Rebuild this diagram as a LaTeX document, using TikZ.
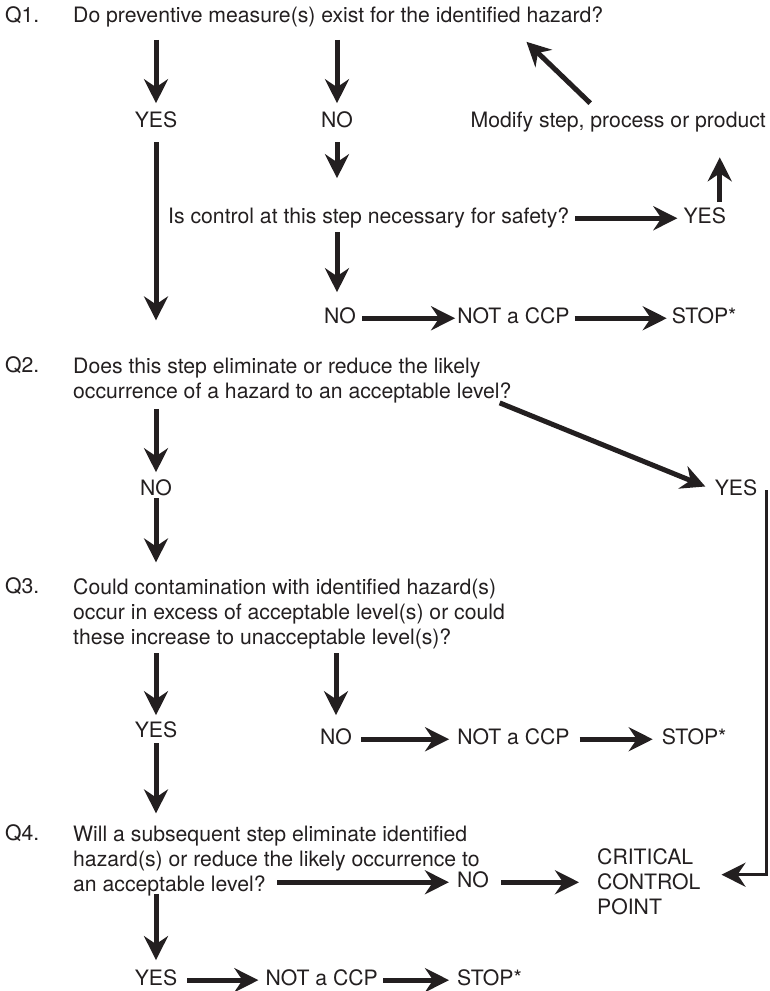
\documentclass[tikz,border=0pt]{standalone}
\usepackage{fontspec}
\setmainfont{TeX Gyre Heros}
\usetikzlibrary{arrows.meta, positioning, calc}
\definecolor{ink}{HTML}{231F20}
\tikzstyle{question} = [anchor=north west, align=left, inner sep=0pt]
\tikzstyle{answer} = [anchor=base, inner sep=0pt, text height=15.2pt, text depth=4.5pt]
\tikzstyle{qnum} = [anchor=base west, inner sep=0pt]
\tikzstyle{arrow} = [line width=5pt, -{Stealth[length=24pt, width=24pt, inset=8pt]}]
\tikzstyle{link} = [line width=3.5pt, -{Stealth[length=24pt, width=24pt, inset=8pt]}]

\begin{document}
\begin{tikzpicture}[x=1pt, y=-1pt, font=\fontsize{21.2}{25}\selectfont, color=ink]
 \useasboundingbox (0,0) rectangle (770,991);

 % Q1
 \node (q1num) [qnum] at (5,22.1) {Q1.};
 \node (q1) [answer, anchor=base west] at (73,22.1) {Do preventive measure(s) exist for the identified hazard?};
 \node (yes1) [answer] at (156,127.6) {YES};
 \node (no1) [answer] at (337,127.6) {NO};
 \node (modify) [answer, anchor=base east] at (766,127.6) {Modify step, process or product};
 \node (ctrl) [answer, anchor=base west] at (168,223.6) {Is control at this step necessary for safety?};
 \node (yes2) [answer, right=114pt of ctrl] {YES};
 \node (no2) [answer] at (340,323.6) {NO};
 \node (notccp1) [answer, right=101pt of no2] {NOT a CCP};
 \node (stop1) [answer, right=102pt of notccp1] {STOP*};

 % Q2
 \node (q2num) [qnum] at (5,372.6) {Q2.};
 \node (q2) [question] at (73,357.4) {Does this step eliminate or reduce the likely\\occurrence of a hazard to an acceptable level?};
 \node (no3) [answer] at (156,495.6) {NO};
 \node (yes3) [answer] at (736,495.6) {YES};

 % Q3
 \node (q3num) [qnum] at (5,593.6) {Q3.};
 \node (q3) [question] at (73,578.4) {Could contamination with identified hazard(s)\\occur in excess of acceptable level(s) or could\\these increase to unacceptable level(s)?};
 \node (yes4) [answer] at (156,737.6) {YES};
 \node (no4) [answer] at (336,744.6) {NO};
 \node (notccp2) [answer, right=105pt of no4] {NOT a CCP};
 \node (stop2) [answer, right=92pt of notccp2] {STOP*};

 % Q4
 \node (q4num) [qnum] at (5,840.6) {Q4.};
 \node (q4) [question] at (73,825.4) {Will a subsequent step eliminate identified\\hazard(s) or reduce the likely occurrence to\\an acceptable level?};
 \node (no5) [answer] at (473,887.6) {NO};
 \node (ccp) [question] at (597,848.4) {CRITICAL\\CONTROL\\POINT};
 \node (yes5) [answer] at (156,985.5) {YES};
 \node (notccp3) [answer, right=88pt of yes5] {NOT a CCP};
 \node (stop3) [answer, right=79pt of notccp3] {STOP*};

 % arrows of Q1
 \draw[arrow, shorten <=13pt, shorten >=9pt] (q1.south -| yes1) -- (yes1.north);
 \draw[arrow, shorten <=13pt, shorten >=9pt] (q1.south -| no1) -- (no1.north);
 \draw[arrow, shorten <=10pt, shorten >=37pt] (yes1.south) -- (yes1.south |- q2.north);
 \draw[arrow, shorten <=10pt, shorten >=30pt] (no1.south) -- (no1.south |- ctrl.north);
 \draw[arrow, shorten <=4pt, shorten >=16pt] (ctrl.south -| no1) -- (no1 |- no2.north);
 \draw[arrow, shorten <=6pt, shorten >=6pt] (ctrl.east) -- (yes2.west);
 \draw[arrow, shorten <=6pt, shorten >=25pt] ([xshift=15pt]yes2.north) -- ([xshift=15pt]yes2.north |- modify.south);
 \draw[arrow] ([xshift=-28pt,yshift=9pt]modify.north) -- ([xshift=-77pt,yshift=-15pt]q1.south east);
 \draw[arrow, shorten <=6pt, shorten >=2pt] (no2.east) -- (notccp1.west);
 \draw[arrow, shorten <=5pt, shorten >=5pt] (notccp1.east) -- (stop1.west);

 % arrows of Q2
 \draw[arrow, shorten <=6pt, shorten >=8pt] (q2.south -| no3) -- (no3.north);
 \draw[arrow, shorten <=-2pt, shorten >=16pt] (no3.south) -- (no3.south |- q3.north);
 \draw[arrow, shorten >=10pt] ([xshift=-12pt]q2.south east) -- (yes3.west);
 \draw[link, shorten >=21pt] ([xshift=9pt]yes3.east) |- ([yshift=7pt]ccp.east);

 % arrows of Q3
 \draw[arrow, shorten <=4pt, shorten >=7pt] (q3.south -| yes4) -- (yes4.north);
 \draw[arrow, shorten <=4pt, shorten >=14pt] (q3.south -| no4) -- (no4.north);
 \draw[arrow, shorten <=9pt, shorten >=8pt] (no4.east) -- (notccp2.west);
 \draw[arrow, shorten <=10pt, shorten >=9pt] (notccp2.east) -- (stop2.west);
 \draw[arrow, shorten <=1pt, shorten >=12pt] (yes4.south) -- (yes4.south |- q4.north);

 % arrows of Q4
 \draw[arrow, shorten >=8pt] ($(q4.west |- no5.west)+(204,0)$) -- (no5.west);
 \draw[arrow, shorten <=12pt, shorten >=18pt] (no5.east) -- (no5.east -| ccp.west);
 \draw[arrow, shorten <=-2pt, shorten >=10pt] (q4.south -| yes5) -- (yes5.north);
 \draw[arrow, shorten <=10pt, shorten >=7pt] (yes5.east) -- (notccp3.west);
 \draw[arrow, shorten <=5pt, shorten >=8pt] (notccp3.east) -- (stop3.west);
\end{tikzpicture}
\end{document}
